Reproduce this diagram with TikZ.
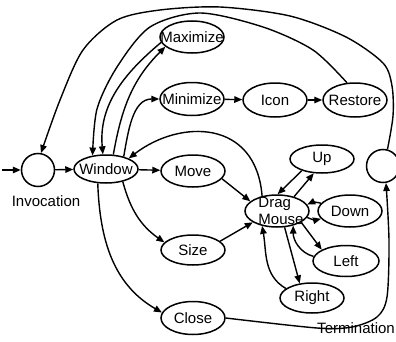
\documentclass[tikz,border=0pt]{standalone}
\usepackage{fontspec}
\setmainfont{Liberation Sans}
\usetikzlibrary{arrows.meta, shapes.geometric}

\tikzset{
  state/.style={ellipse, draw, line width=1.5pt, minimum width=64pt, minimum height=30pt, inner sep=0pt,
    execute at begin node={\hbox to 0pt\bgroup\hss}, execute at end node={\hss\egroup}},
  terminal/.style={circle, draw, line width=1.5pt, minimum size=33pt, inner sep=0pt},
  trans/.style={-{Triangle[length=8pt, width=6.5pt]}, line width=1.4pt},
}

\begin{document}
\begin{tikzpicture}[x=1pt, y=1pt, font=\fontsize{15}{17}\selectfont]
  \useasboundingbox (0,0) rectangle (396,341);

  % States
  \node[terminal] (inv) at (38,171) {};
  \node (invtxt) at (46,140) {Invocation};
  \node[state, minimum height=28pt] (win) at (106,172) {Window};
  \node[state, minimum height=32pt] (max) at (192,304) {Maximize};
  \node[state, minimum height=33pt] (min) at (192,242) {Minimize};
  \node[state, minimum height=34pt] (icon) at (275,241) {Icon};
  \node[state, minimum height=34pt] (rest) at (355,241) {Restore};
  \node[state, minimum height=32pt] (move) at (193,170) {Move};
  \node[state, minimum height=32pt] (drag) at (277,130) {};
  \node[align=left, inner sep=0pt] (dragtxt) at (281,130) {Drag\\Mouse};
  \node[state, minimum height=28pt] (up) at (322,182) {Up};
  \node[state, minimum height=32pt] (down) at (350,130) {Down};
  \node[state, minimum width=66pt, minimum height=31pt] (left) at (346,80) {Left};
  \node[state] (right) at (312,43) {Right};
  \node[state] (size) at (193,91) {Size};
  \node[state, minimum height=33pt] (close) at (193,23) {Close};
  \node[terminal] (term) at (383,175) {};
  \node (termtxt) at (356,13) {Termination};

  % Straight transitions
  \coordinate (entry) at (2,171);
  \draw[trans] (entry) -- (inv);
  \draw[trans] (inv) -- (win);
  \draw[trans] (win) -- (move);
  \draw[trans] (min) -- (icon);
  \draw[trans] (icon) -- (rest);

  % Window menu
  \draw[trans] (win.63) to[out=80, in=225] (max.200);
  \draw[trans] (max.190) to[out=220, in=95] (win.102);
  \draw[trans] (win.35) to[out=80, in=180] (min.west);
  \draw[trans] (win.-37) to[out=-75, in=145] (size.165);
  \draw[trans] (win.-120) to[out=-88, in=150] (close.170);
  \draw[trans] plot[smooth] coordinates {
    (rest.115) (313,291) (263,314) (200,328) (150,314) (117,274) (97,232) (win.135)};

  % Long arcs
  \draw[trans] plot[smooth] coordinates {
    (term.75) (393,225) (392,255) (383,278) (346,304) (290,325) (220,334) (160,331) (117,321) (83,291) (60,241) (inv.80)};
  \draw[trans] plot[smooth] coordinates {
    (close.east) (317,13) (352,14) (377,24) (387,44) (389,100) (term.-80)};

  % Drag mouse
  \draw[trans] (move.-15) -- (drag.160);
  \draw[trans] (size.18) -- (drag.205);
  \draw[trans] (drag.135) .. controls (256,222) and (180,222) .. (win.25);
  \draw[trans] (up.-150) -- (drag.88);
  \draw[trans] (drag.40) -- (up.-120);
  \draw[trans] (down.165) to[bend right=20] (drag.12);
  \draw[trans] (drag.-12) to[bend right=20] (down.-165);
  \draw[trans] (drag.-25) -- (left.155);
  \draw[trans] (left.172) to[out=165, in=-90] (drag.-42);
  \draw[trans] (drag.-65) -- (right.130);
  \draw[trans] (right.160) to[out=150, in=-80] (drag.-135);
\end{tikzpicture}
\end{document}
